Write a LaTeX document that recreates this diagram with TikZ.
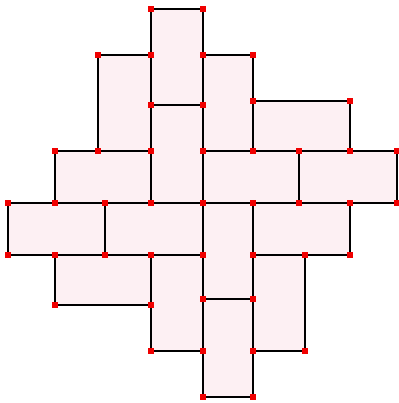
\documentclass[tikz,border=0pt]{standalone}
\definecolor{tilefill}{RGB}{253,240,243}
\definecolor{dotred}{RGB}{240,0,0}
\tikzset{
  tile/.style={fill=tilefill, draw=black, line width=1.5pt, line join=miter},
  vdot/.style={fill=dotred, draw=none}
}
\newcommand{\tileR}[4]{\draw[tile] (#1,#2) rectangle (#3,#4);}
\newcommand{\tileD}[4]{%
  \foreach \px/\py in {#1/#2,#3/#2,#1/#4,#3/#4}{%
    \fill[vdot] (\px-2.8,\py-2.8) rectangle (\px+2.8,\py+2.8);}%
}
\newcommand{\alltiles}[1]{%
#1{151}{9}{203}{105}
#1{98}{55}{151}{151}
#1{203}{55}{253}{151}
#1{253}{101}{350}{151}
#1{151}{105}{203}{203}
#1{55}{151}{151}{203}
#1{203}{151}{299}{203}
#1{299}{151}{397}{203}
#1{8}{203}{105}{255}
#1{105}{203}{203}{255}
#1{203}{203}{253}{299}
#1{253}{203}{350}{255}
#1{55}{255}{151}{305}
#1{151}{255}{203}{351}
#1{253}{255}{305}{351}
#1{203}{299}{253}{397}
}
\begin{document}
\begin{tikzpicture}[x=1pt,y=-1pt]
\useasboundingbox (0,0) rectangle (398,403);
\alltiles{\tileR}
\alltiles{\tileD}
\end{tikzpicture}
\end{document}
